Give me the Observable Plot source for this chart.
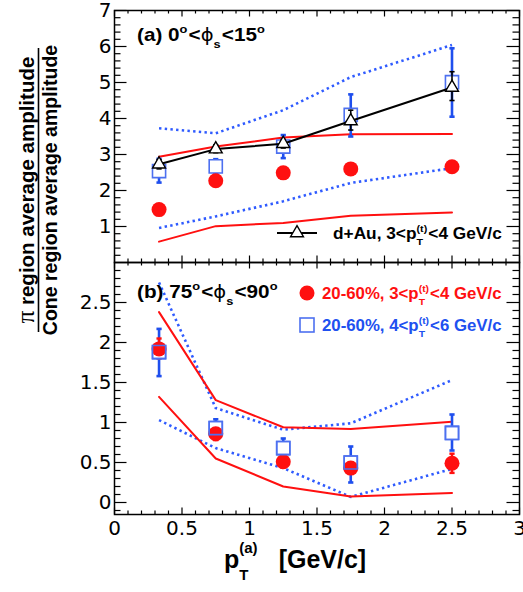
<!DOCTYPE html>
<html><head><meta charset="utf-8">
<script src="https://cdn.jsdelivr.net/npm/d3@7"></script>
<script src="https://cdn.jsdelivr.net/npm/@observablehq/plot@0.6"></script>
<style>
body{margin:0;background:#fff;}
#chart{position:relative;width:523px;height:592px;}
#chart > svg{position:absolute;left:0;}
</style></head><body><div id="chart"></div>
<script>
// ---------- data ----------
const pt = [0.33, 0.75, 1.25, 1.75, 2.5];
const xTicks = [0, 0.5, 1, 1.5, 2, 2.5, 3];
const aTicks = [1, 2, 3, 4, 5, 6, 7];
const bTicks = [0, 0.5, 1, 1.5, 2, 2.5];
// panel (a) 0<phi_s<15
const aRed = [1.47, 2.27, 2.49, 2.60, 2.66];
const aRedLo = [1.37, 2.17, 2.39, 2.50, 2.56];
const aRedHi = [1.57, 2.37, 2.59, 2.70, 2.76];
const aBlue = [2.54, 2.67, 3.22, 4.10, 5.01];
const aBlueLo = [2.22, 2.47, 2.90, 3.50, 4.05];
const aBlueHi = [2.88, 2.87, 3.54, 4.67, 5.95];
const aDAu = [2.73, 3.15, 3.30, 3.93, 4.86];
const aDAuLo = [2.60, 3.05, 3.18, 3.68, 4.50];
const aDAuHi = [2.86, 3.27, 3.42, 4.23, 5.30];
const aRedBandHi = [2.94, 3.22, 3.47, 3.56, 3.57];
const aRedBandLo = [0.58, 1.01, 1.10, 1.30, 1.39];
const aBlueBandHi = [3.73, 3.59, 4.23, 5.15, 6.04];
const aBlueBandLo = [0.96, 1.28, 1.70, 2.21, 2.62];
// panel (b) 75<phi_s<90
const bRed = [1.92, 0.86, 0.51, 0.43, 0.49];
const bRedLo = [1.80, 0.78, 0.44, 0.36, 0.37];
const bRedHi = [2.05, 0.94, 0.58, 0.50, 0.61];
const bBlue = [1.88, 0.93, 0.68, 0.50, 0.87];
const bBlueLo = [1.58, 0.83, 0.57, 0.25, 0.65];
const bBlueHi = [2.17, 1.04, 0.80, 0.70, 1.10];
const bRedBandHi = [2.38, 1.28, 0.94, 0.92, 1.01];
const bRedBandLo = [1.32, 0.55, 0.20, 0.075, 0.12];
const bBlueBandHi = [2.75, 1.18, 0.91, 0.99, 1.53];
const bBlueBandLo = [1.03, 0.68, 0.43, 0.07, 0.42];

// ---------- style ----------
const FONT = '"Liberation Sans", Arial, Helvetica, sans-serif';
const TICKFONT = '"DejaVu Sans", "Liberation Sans", sans-serif';
const RED = "#ff1010", BLUE_LINE = "#2f5bff", BLUE_SQ = "#4d70f0", BLUE_ERR = "#1f4fee";
const W = 523, X0 = 114, X1 = 519, FW = X1 - X0, FH = 252;
const capSym = {draw(ctx) { ctx.moveTo(-2.6, 0); ctx.lineTo(2.6, 0); }};
const fmt = d => String(d);

const rec = (...cols) => pt.map((x, i) => Object.assign({x}, ...cols.map(([k, a]) => ({[k]: a[i]}))));
const minor = (lo, hi, step, majStep) => d3.range(Math.round(lo / step), Math.round(hi / step) + 1)
  .map(i => +(i * step).toFixed(3)).filter(v => Math.abs(v / majStep - Math.round(v / majStep)) > 1e-6);

function frameTicks(yMaj, yMin) {
  const xMin = minor(0, 3, 0.1, 0.5);
  const s = {stroke: "black", strokeWidth: 1.2};
  return [
    Plot.tickY(yMaj, {y: d => d, insetRight: FW - 12.5, ...s}),
    Plot.tickY(yMin, {y: d => d, insetRight: FW - 6.5, ...s}),
    Plot.tickY(yMaj, {y: d => d, insetLeft: FW - 12.5, ...s}),
    Plot.tickY(yMin, {y: d => d, insetLeft: FW - 6.5, ...s}),
    Plot.tickX(xTicks, {x: d => d, insetTop: FH - 6.5, ...s}),
    Plot.tickX(xMin, {x: d => d, insetTop: FH - 3.5, ...s}),
    Plot.tickX(xTicks, {x: d => d, insetBottom: FH - 6.5, ...s}),
    Plot.tickX(xMin, {x: d => d, insetBottom: FH - 3.5, ...s}),
    Plot.frame({stroke: "black", strokeWidth: 1.5})
  ];
}
function errBars(data, lo, hi, stroke, strokeWidth) {
  return [
    Plot.ruleX(data, {x: "x", y1: lo, y2: hi, stroke, strokeWidth}),
    Plot.dot(data, {x: "x", y: lo, symbol: capSym, stroke, strokeWidth, r: 3}),
    Plot.dot(data, {x: "x", y: hi, symbol: capSym, stroke, strokeWidth, r: 3})
  ];
}
function bands(data, hiR, loR, hiB, loB) {
  const dot = {stroke: BLUE_LINE, strokeWidth: 2.6, strokeDasharray: "2.4,3.3", strokeLinecap: "butt"};
  return [
    Plot.line(data, {x: "x", y: hiB, ...dot}),
    Plot.line(data, {x: "x", y: loB, ...dot}),
    Plot.line(data, {x: "x", y: hiR, stroke: RED, strokeWidth: 2}),
    Plot.line(data, {x: "x", y: loR, stroke: RED, strokeWidth: 2})
  ];
}
const baseStyle = {fontFamily: FONT, fontSize: "20px", background: "transparent", color: "black", overflow: "visible"};
const tickText = {tickSize: 0, label: null, fontSize: 20, fontFamily: TICKFONT, tickFormat: fmt};

// ---------- panel (a) ----------
const A = rec(["red", aRed], ["redLo", aRedLo], ["redHi", aRedHi], ["blue", aBlue], ["blueLo", aBlueLo], ["blueHi", aBlueHi],
  ["dau", aDAu], ["dauLo", aDAuLo], ["dauHi", aDAuHi], ["rH", aRedBandHi], ["rL", aRedBandLo], ["bH", aBlueBandHi], ["bL", aBlueBandLo]);
const topPlot = Plot.plot({
  width: W, height: 267, marginTop: 10, marginBottom: 5, marginLeft: X0, marginRight: W - X1,
  style: baseStyle,
  x: {domain: [0, 3], axis: null},
  y: {domain: [0, 7], axis: null},
  marks: [
    ...frameTicks(aTicks, minor(0, 7, 0.2, 1)),
    Plot.axisY(aTicks, {anchor: "left", tickPadding: 3, ...tickText}),
    ...bands(A, "rH", "rL", "bH", "bL"),
    ...errBars(A, "blueLo", "blueHi", BLUE_ERR, 2.6),
    ...errBars(A, "redLo", "redHi", RED, 2.4),
    Plot.dot(A, {x: "x", y: "blue", symbol: "square", r: 7.4, fill: "white", stroke: BLUE_SQ, strokeWidth: 1.6}),
    Plot.dot(A, {x: "x", y: "red", r: 7.5, fill: RED}),
    Plot.line(A, {x: "x", y: "dau", stroke: "black", strokeWidth: 2}),
    ...errBars(A, "dauLo", "dauHi", "black", 1.6),
    Plot.dot(A, {x: "x", y: "dau", symbol: "triangle", r: 4.8, fill: "white", stroke: "black", strokeWidth: 1.4})
  ]
});

// ---------- panel (b) ----------
const B = rec(["red", bRed], ["redLo", bRedLo], ["redHi", bRedHi], ["blue", bBlue], ["blueLo", bBlueLo], ["blueHi", bBlueHi],
  ["rH", bRedBandHi], ["rL", bRedBandLo], ["bH", bBlueBandHi], ["bL", bBlueBandLo]);
const bottomPlot = Plot.plot({
  width: W, height: 335, marginTop: 5, marginBottom: 78, marginLeft: X0, marginRight: W - X1,
  style: baseStyle,
  x: {domain: [0, 3], axis: null},
  y: {domain: [-0.15, 3], axis: null},
  marks: [
    ...frameTicks(bTicks, minor(-0.1, 2.9, 0.1, 0.5)),
    Plot.axisY(bTicks, {anchor: "left", tickPadding: 3, ...tickText}),
    Plot.axisX(xTicks, {anchor: "bottom", tickPadding: 6, ...tickText}),
    ...bands(B, "rH", "rL", "bH", "bL"),
    ...errBars(B, "blueLo", "blueHi", BLUE_ERR, 2.6),
    ...errBars(B, "redLo", "redHi", RED, 2.4),
    Plot.dot(B, {x: "x", y: "blue", symbol: "square", r: 7.4, fill: "white", stroke: BLUE_SQ, strokeWidth: 1.6}),
    Plot.dot(B, {x: "x", y: "red", r: 7.5, fill: RED}),
    Plot.dot(B, {x: "x", y: "blue", symbol: "square", r: 7.4, fill: "none", stroke: BLUE_SQ, strokeWidth: 1.6})
  ]
});

const chart = document.getElementById("chart");
topPlot.style.top = "0px";
bottomPlot.style.top = "257px";
chart.append(topPlot, bottomPlot);

// ---------- text overlay (titles, panel labels, legends) ----------
const ov = d3.select(chart).append("svg").attr("width", W).attr("height", 592)
  .style("top", "0px").style("pointer-events", "none").attr("font-family", FONT);

function rich(x, y, parts, {size = 17, weight = "bold", fill = "black", sx = 1, anchor = "start"} = {}) {
  const g = ov.append("g").attr("fill", fill).attr("font-weight", weight);
  let cx = 0;
  const put = (t, px, py, fs, extra = {}) => {
    const e = g.append("text").attr("x", px).attr("y", py).attr("font-size", fs).text(t);
    for (const k in extra) e.attr(k, extra[k]);
    return e.node().getComputedTextLength();
  };
  for (const p of parts) {
    if (typeof p === "string") cx += put(p, cx, 0, size);
    else if (p.gap) cx += p.gap;
    else if (p.sym) cx += put(p.sym, cx, 0, p.size || size, {"font-weight": "normal", "font-family": p.family || FONT});
    else {
      let w = 0;
      if (p.sup) w = Math.max(w, put(p.sup, cx, p.supDy ?? -size * 0.45, p.fs || size * 0.62));
      if (p.sub) w = Math.max(w, put(p.sub, cx, p.subDy ?? size * 0.38, p.fs || size * 0.62));
      cx += w + (p.pad ?? 1);
    }
  }
  const x0 = anchor === "middle" ? x - cx * sx / 2 : x;
  g.attr("transform", `translate(${x0},${y}) scale(${sx},1)`);
  return g;
}
const ptt = {sup: "(t)", sub: "T"};
const phi = {sym: "ϕ", family: '"DejaVu Sans", sans-serif', size: 17};

// panel labels
rich(137, 41, ["(a) 0", {sup: "o", supDy: -8}, "<", phi, {sub: "s", subDy: 7}, "<15", {sup: "o", supDy: -8}], {size: 18, sx: 1.15});
rich(137, 298, ["(b) 75", {sup: "o", supDy: -8}, "<", phi, {sub: "s", subDy: 7}, "<90", {sup: "o", supDy: -8}], {size: 18, sx: 1.15});

// legend (a)
ov.append("line").attr("x1", 277).attr("x2", 317).attr("y1", 233).attr("y2", 233).attr("stroke", "black").attr("stroke-width", 2);
ov.append("path").attr("d", d3.symbol(d3.symbolTriangle, 4.8 * 4.8 * Math.PI)()).attr("transform", "translate(297,233)")
  .attr("fill", "white").attr("stroke", "black").attr("stroke-width", 1.4);
rich(333, 239, ["d+Au, 3<p", ptt, "<4 GeV/c"], {size: 16, sx: 1.08});

// legend (b)
ov.append("circle").attr("cx", 307).attr("cy", 293).attr("r", 7.5).attr("fill", RED);
ov.append("rect").attr("x", 300).attr("y", 318).attr("width", 14).attr("height", 14).attr("fill", "none").attr("stroke", BLUE_SQ).attr("stroke-width", 1.6);
rich(322, 299, ["20-60%, 3<p", ptt, "<4 GeV/c"], {size: 16, sx: 1.05, fill: RED});
rich(322, 331, ["20-60%, 4<p", ptt, "<6 GeV/c"], {size: 16, sx: 1.05, fill: "#2050f0"});

// x title
rich(224, 568, ["p", {sup: "(a)", sub: "T", supDy: -15, subDy: 12, fs: 15}, {gap: 20}, "[GeV/c]"], {size: 25});

// y title (fraction)
const yt = ov.append("g").attr("transform", "translate(0,190) rotate(-90)");
const t1 = yt.append("text").attr("y", 34).attr("font-weight", "bold").attr("font-size", 20.5).attr("text-anchor", "middle");
t1.append("tspan").attr("font-family", '"Liberation Serif", serif').attr("font-weight", "normal").attr("font-size", 25).text("π");
t1.append("tspan").text(" region average amplitude");
yt.append("line").attr("x1", -142).attr("x2", 142).attr("y1", 38.5).attr("y2", 38.5).attr("stroke", "black").attr("stroke-width", 1.6);
yt.append("text").attr("y", 57).attr("font-weight", "bold").attr("font-size", 19.5).attr("text-anchor", "middle").text("Cone region average amplitude");
</script></body></html>
